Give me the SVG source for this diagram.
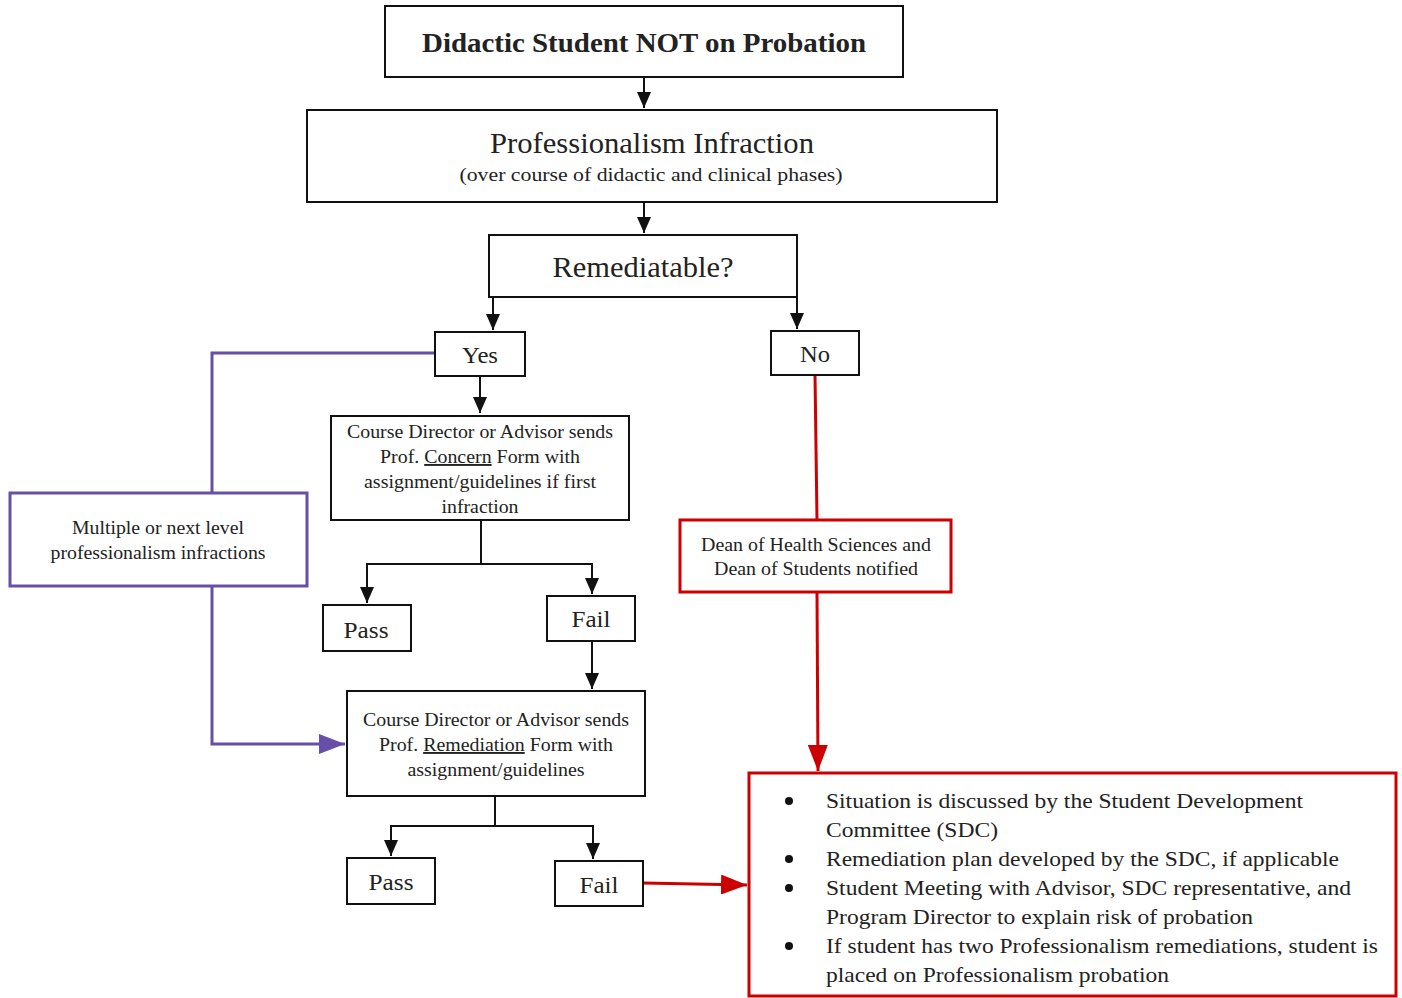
<svg xmlns="http://www.w3.org/2000/svg" width="1402" height="998" viewBox="0 0 1402 998">
  <style>
    text { font-family: "Liberation Serif", "Times New Roman", serif; fill: #222; text-anchor: middle; }
    .box { fill: #fff; stroke: #111; stroke-width: 2; }
    .rbox { fill: #fff; stroke: #cc0000; stroke-width: 3; }
    .pbox { fill: #fff; stroke: #674ea7; stroke-width: 3; }
    .blk { fill: none; stroke: #111; stroke-width: 2; }
    .red { fill: none; stroke: #cc0000; stroke-width: 3; }
    .pur { fill: none; stroke: #674ea7; stroke-width: 3; }
    .s19 { font-size: 19px; }
    .s22 { font-size: 22px; }
    .s24 { font-size: 24px; }
    .lft { text-anchor: start; }
  </style>
  <defs>
    <marker id="ah" markerUnits="userSpaceOnUse" markerWidth="14" markerHeight="16" viewBox="0 0 14 16" refX="7" refY="16" orient="auto-start-reverse">
      <path d="M0,0 L14,0 L7,16 z" fill="#111" transform="rotate(0)"/>
    </marker>
    <marker id="ahR" markerUnits="userSpaceOnUse" markerWidth="26" markerHeight="20" viewBox="0 0 26 20" refX="26" refY="10" orient="auto">
      <path d="M0,0 L26,10 L0,20 z" fill="#cc0000"/>
    </marker>
    <marker id="ahP" markerUnits="userSpaceOnUse" markerWidth="26" markerHeight="20" viewBox="0 0 26 20" refX="26" refY="10" orient="auto">
      <path d="M0,0 L26,10 L0,20 z" fill="#674ea7"/>
    </marker>
    <marker id="ahK" markerUnits="userSpaceOnUse" markerWidth="16" markerHeight="14" viewBox="0 0 16 14" refX="16" refY="7" orient="auto">
      <path d="M0,0 L16,7 L0,14 z" fill="#111"/>
    </marker>
  </defs>

  <!-- connectors -->
  <g id="connectors">
    <path class="blk" d="M644,77 V108" marker-end="url(#ahK)"/>
    <path class="blk" d="M644,202 V233" marker-end="url(#ahK)"/>
    <path class="blk" d="M493,297 V330" marker-end="url(#ahK)"/>
    <path class="blk" d="M797,297 V329" marker-end="url(#ahK)"/>
    <path class="blk" d="M480,376 V413" marker-end="url(#ahK)"/>
    <path class="blk" d="M481,520 V564 H367 V603" marker-end="url(#ahK)"/>
    <path class="blk" d="M481,564 H592 V594" marker-end="url(#ahK)"/>
    <path class="blk" d="M592,641 V689" marker-end="url(#ahK)"/>
    <path class="blk" d="M495,796 V826 H391 V856" marker-end="url(#ahK)"/>
    <path class="blk" d="M495,826 H593 V859" marker-end="url(#ahK)"/>
    <path class="pur" d="M435,353 H212 V493"/>
    <path class="pur" d="M212,586 V744 H345" marker-end="url(#ahP)"/>
    <path class="red" d="M815,375 L817,520"/>
    <path class="red" d="M817,592 L818,771" marker-end="url(#ahR)"/>
    <path class="red" d="M643,883 L747,885" marker-end="url(#ahR)"/>
  </g>

  <g id="start">
    <rect class="box" x="385" y="6" width="518" height="71"/>
    <text x="644" y="52" font-size="27" font-weight="bold" textLength="444" lengthAdjust="spacingAndGlyphs">Didactic Student NOT on Probation</text>
  </g>

  <g id="infraction">
    <rect class="box" x="307" y="110" width="690" height="92"/>
    <text x="652" y="153" font-size="29" textLength="324" lengthAdjust="spacingAndGlyphs">Professionalism Infraction</text>
    <text x="651" y="181" class="s19" textLength="383" lengthAdjust="spacingAndGlyphs">(over course of didactic and clinical phases)</text>
  </g>

  <g id="remediatable">
    <rect class="box" x="489" y="235" width="308" height="62"/>
    <text x="643" y="277" font-size="29" textLength="181" lengthAdjust="spacingAndGlyphs">Remediatable?</text>
  </g>

  <g id="yes">
    <rect class="box" x="435" y="332" width="90" height="44"/>
    <text x="480" y="363" class="s24" textLength="36" lengthAdjust="spacingAndGlyphs">Yes</text>
  </g>

  <g id="no">
    <rect class="box" x="771" y="331" width="88" height="44"/>
    <text x="815" y="362" class="s24" textLength="30" lengthAdjust="spacingAndGlyphs">No</text>
  </g>

  <g id="concern">
    <rect class="box" x="331" y="416" width="298" height="104"/>
    <text x="480" y="438" class="s19" textLength="266" lengthAdjust="spacingAndGlyphs">Course Director or Advisor sends</text>
    <text x="480" y="463" class="s19" textLength="200" lengthAdjust="spacingAndGlyphs">Prof. <tspan text-decoration="underline">Concern</tspan> Form with</text>
    <text x="480" y="488" class="s19" textLength="232" lengthAdjust="spacingAndGlyphs">assignment/guidelines if first</text>
    <text x="480" y="513" class="s19" textLength="77" lengthAdjust="spacingAndGlyphs">infraction</text>
  </g>

  <g id="multiple">
    <rect class="pbox" x="10" y="493" width="297" height="93"/>
    <text x="158" y="534" class="s19" textLength="172" lengthAdjust="spacingAndGlyphs">Multiple or next level</text>
    <text x="158" y="559" class="s19" textLength="215" lengthAdjust="spacingAndGlyphs">professionalism infractions</text>
  </g>

  <g id="pass1">
    <rect class="box" x="323" y="605" width="88" height="46"/>
    <text x="366" y="638" class="s24" textLength="45" lengthAdjust="spacingAndGlyphs">Pass</text>
  </g>

  <g id="fail1">
    <rect class="box" x="547" y="596" width="88" height="45"/>
    <text x="591" y="627" class="s24" textLength="39" lengthAdjust="spacingAndGlyphs">Fail</text>
  </g>

  <g id="dean">
    <rect class="rbox" x="680" y="520" width="271" height="72"/>
    <text x="816" y="551" class="s19" textLength="230" lengthAdjust="spacingAndGlyphs">Dean of Health Sciences and</text>
    <text x="816" y="575" class="s19" textLength="204" lengthAdjust="spacingAndGlyphs">Dean of Students notified</text>
  </g>

  <g id="remediation">
    <rect class="box" x="347" y="691" width="298" height="105"/>
    <text x="496" y="726" class="s19" textLength="266" lengthAdjust="spacingAndGlyphs">Course Director or Advisor sends</text>
    <text x="496" y="751" class="s19" textLength="234" lengthAdjust="spacingAndGlyphs">Prof. <tspan text-decoration="underline">Remediation</tspan> Form with</text>
    <text x="496" y="776" class="s19" textLength="177" lengthAdjust="spacingAndGlyphs">assignment/guidelines</text>
  </g>

  <g id="pass2">
    <rect class="box" x="347" y="858" width="88" height="46"/>
    <text x="391" y="890" class="s24" textLength="45" lengthAdjust="spacingAndGlyphs">Pass</text>
  </g>

  <g id="fail2">
    <rect class="box" x="555" y="861" width="88" height="45"/>
    <text x="599" y="893" class="s24" textLength="39" lengthAdjust="spacingAndGlyphs">Fail</text>
  </g>

  <g id="outcome">
    <rect class="rbox" x="749" y="773" width="647" height="223"/>
    <g fill="#111">
      <circle cx="789" cy="801" r="4"/>
      <circle cx="789" cy="859" r="4"/>
      <circle cx="789" cy="888" r="4"/>
      <circle cx="789" cy="946" r="4"/>
    </g>
    <text x="826" y="808" class="s22 lft" textLength="477" lengthAdjust="spacingAndGlyphs">Situation is discussed by the Student Development</text>
    <text x="826" y="837" class="s22 lft" textLength="172" lengthAdjust="spacingAndGlyphs">Committee (SDC)</text>
    <text x="826" y="866" class="s22 lft" textLength="513" lengthAdjust="spacingAndGlyphs">Remediation plan developed by the SDC, if applicable</text>
    <text x="826" y="895" class="s22 lft" textLength="525" lengthAdjust="spacingAndGlyphs">Student Meeting with Advisor, SDC representative, and</text>
    <text x="826" y="924" class="s22 lft" textLength="427" lengthAdjust="spacingAndGlyphs">Program Director to explain risk of probation</text>
    <text x="826" y="953" class="s22 lft" textLength="552" lengthAdjust="spacingAndGlyphs">If student has two Professionalism remediations, student is</text>
    <text x="826" y="982" class="s22 lft" textLength="343" lengthAdjust="spacingAndGlyphs">placed on Professionalism probation</text>
  </g>
</svg>
